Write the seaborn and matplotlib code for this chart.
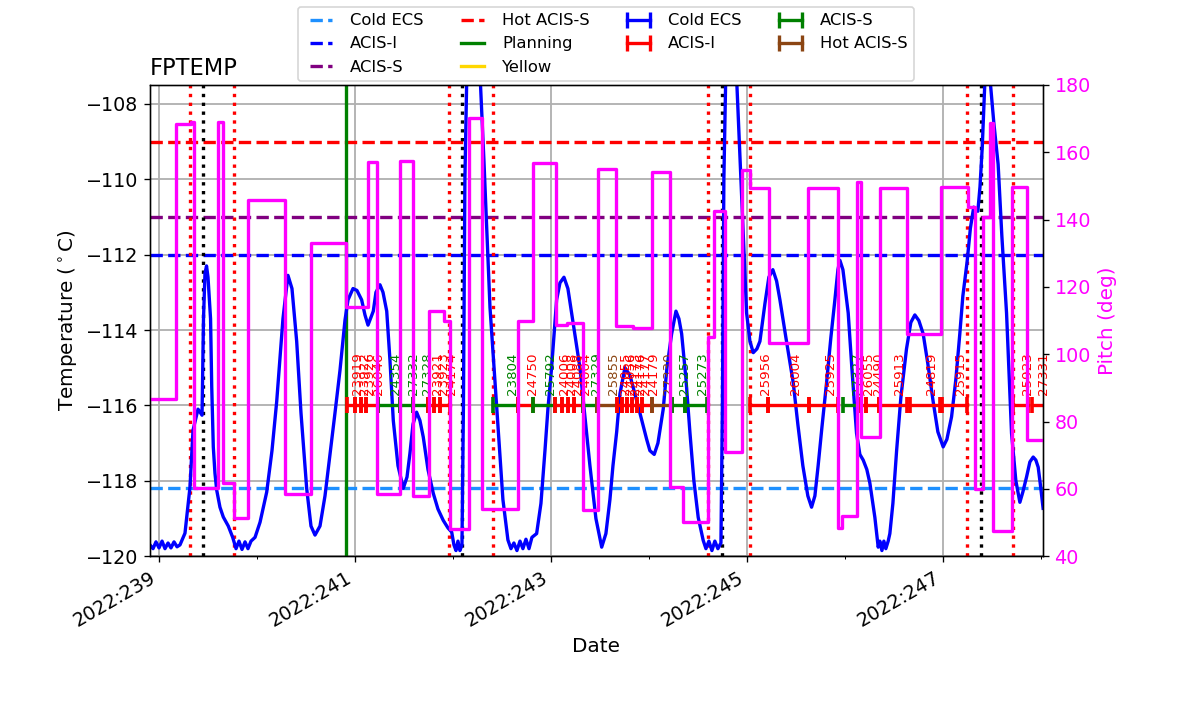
import numpy as np
import seaborn as sns
import matplotlib.pyplot as plt
from matplotlib.lines import Line2D

# FPTEMP model, x in day-of-year 2022
temp_time = [238.908, 238.939, 238.969, 239.000, 239.031, 239.061, 239.092, 239.122, 239.153, 239.184,
             239.214, 239.265, 239.316, 239.347, 239.398, 239.439, 239.454, 239.469, 239.485, 239.500,
             239.526, 239.538, 239.554, 239.571, 239.589, 239.622, 239.656, 239.707, 239.752, 239.786,
             239.816, 239.847, 239.878, 239.908, 239.939, 239.980, 240.031, 240.099, 240.153, 240.201,
             240.265, 240.316, 240.357, 240.405, 240.449, 240.507, 240.551, 240.592, 240.643, 240.694,
             240.745, 240.796, 240.847, 240.898, 240.929, 240.980, 241.020, 241.068, 241.102, 241.133,
             241.187, 241.214, 241.255, 241.286, 241.324, 241.357, 241.391, 241.439, 241.493, 241.531,
             241.561, 241.592, 241.629, 241.663, 241.697, 241.745, 241.799, 241.847, 241.901, 241.949,
             241.987, 242.010, 242.031, 242.051, 242.071, 242.092, 242.107, 242.122, 242.143, 242.184,
             242.235, 242.276, 242.316, 242.378, 242.446, 242.510, 242.561, 242.592, 242.622, 242.653,
             242.684, 242.714, 242.745, 242.776, 242.806, 242.854, 242.898, 242.939, 242.969, 243.007,
             243.058, 243.092, 243.133, 243.173, 243.214, 243.255, 243.296, 243.347, 243.398, 243.459,
             243.518, 243.561, 243.602, 243.633, 243.671, 243.704, 243.755, 243.806, 243.837, 243.908,
             243.977, 244.010, 244.054, 244.092, 244.146, 244.184, 244.232, 244.276, 244.306, 244.334,
             244.378, 244.418, 244.459, 244.503, 244.554, 244.582, 244.612, 244.643, 244.673, 244.704,
             244.735, 244.750, 244.765, 244.786, 244.827, 244.867, 244.898, 244.949, 244.997, 245.031,
             245.065, 245.102, 245.133, 245.184, 245.224, 245.265, 245.303, 245.337, 245.398, 245.473,
             245.520, 245.571, 245.622, 245.660, 245.694, 245.727, 245.765, 245.813, 245.857, 245.898,
             245.929, 245.949, 245.980, 246.034, 246.071, 246.119, 246.153, 246.187, 246.224, 246.255,
             246.306, 246.340, 246.357, 246.378, 246.398, 246.418, 246.442, 246.459, 246.490, 246.528,
             246.571, 246.629, 246.673, 246.714, 246.755, 246.799, 246.847, 246.901, 246.949, 247.003,
             247.041, 247.089, 247.133, 247.173, 247.204, 247.247, 247.281, 247.315, 247.357, 247.379,
             247.402, 247.429, 247.454, 247.480, 247.520, 247.564, 247.602, 247.650, 247.701, 247.745,
             247.786, 247.816, 247.854, 247.888, 247.922, 247.949, 247.973, 248.000, 248.023]
temp_vals = [-119.70, -119.80, -119.62, -119.78, -119.60, -119.80, -119.65, -119.78, -119.62, -119.75,
             -119.70, -119.39, -118.17, -116.66, -116.10, -116.26, -113.70, -112.50, -112.30, -112.60,
             -113.70, -115.50, -117.10, -117.80, -118.25, -118.70, -118.96, -119.20, -119.50, -119.80,
             -119.60, -119.82, -119.62, -119.80, -119.60, -119.50, -119.10, -118.30, -117.20, -115.90,
             -113.70, -112.55, -112.90, -114.30, -116.20, -118.20, -119.20, -119.44, -119.20, -118.40,
             -117.30, -116.20, -115.07, -113.74, -113.20, -112.90, -112.95, -113.20, -113.60, -113.87,
             -113.50, -113.00, -112.80, -113.00, -113.50, -114.80, -116.40, -117.60, -118.20, -117.90,
             -117.27, -116.50, -116.18, -116.40, -116.84, -117.70, -118.33, -118.75, -119.05, -119.25,
             -119.36, -119.70, -119.85, -119.60, -119.85, -119.70, -116.00, -110.00, -107.00, -105.80,
             -106.00, -107.20, -109.50, -113.40, -116.04, -118.50, -119.57, -119.80, -119.65, -119.85,
             -119.60, -119.80, -119.55, -119.80, -119.50, -119.40, -118.60, -117.20, -116.10, -114.99,
             -113.20, -112.75, -112.60, -112.90, -113.60, -114.30, -115.00, -116.30, -117.60, -119.00,
             -119.76, -119.40, -118.50, -117.60, -116.70, -115.70, -115.00, -115.20, -115.50, -116.20,
             -116.90, -117.20, -117.30, -117.00, -116.10, -115.00, -114.10, -113.50, -113.70, -114.10,
             -115.30, -116.70, -118.00, -118.97, -119.58, -119.80, -119.60, -119.85, -119.60, -119.80,
             -119.65, -116.00, -110.00, -107.00, -106.00, -106.40, -107.50, -110.60, -113.55, -114.30,
             -114.60, -114.50, -114.30, -113.30, -112.60, -112.40, -112.70, -113.20, -114.20, -115.40,
             -116.50, -117.60, -118.40, -118.70, -118.40, -117.60, -116.60, -115.40, -114.20, -113.20,
             -112.40, -112.15, -112.40, -113.55, -115.00, -116.74, -117.30, -117.45, -117.70, -118.06,
             -118.97, -119.76, -119.60, -119.85, -119.60, -119.80, -119.60, -119.40, -118.60, -117.20,
             -115.80, -114.50, -113.80, -113.60, -113.75, -114.10, -114.90, -115.90, -116.70, -117.10,
             -116.90, -116.30, -115.30, -114.10, -113.10, -112.20, -111.30, -110.74, -110.85, -110.20,
             -109.15, -107.40, -107.00, -107.30, -108.50, -109.60, -111.50, -113.55, -116.74, -118.00,
             -118.57, -118.30, -117.90, -117.50, -117.37, -117.45, -117.64, -118.20, -118.73]

# pitch (step, held until next time)
pitch_time = [238.908, 239.173, 239.327, 239.357, 239.602, 239.653, 239.765, 239.908, 240.286, 240.551,
              240.908, 241.133, 241.224, 241.459, 241.592, 241.755, 241.908, 241.969, 242.163, 242.301,
              242.668, 242.816, 243.051, 243.163, 243.327, 243.480, 243.663, 243.837, 244.031, 244.214,
              244.347, 244.602, 244.663, 244.775, 244.949, 245.031, 245.224, 245.622, 245.929, 245.969,
              246.122, 246.163, 246.357, 246.633, 246.980, 247.255, 247.327, 247.408, 247.480, 247.510,
              247.704, 247.857, 248.025]
pitch_vals = [86.7, 168.4, 169.0, 60.2, 169.0, 61.7, 51.3, 145.8, 58.4, 133.1,
              113.9, 157.0, 58.4, 157.5, 57.8, 112.8, 109.8, 48.2, 170.1, 54.0,
              109.8, 156.7, 108.7, 109.2, 53.7, 154.9, 108.4, 107.8, 154.2, 60.6,
              50.2, 105.0, 142.5, 71.0, 154.7, 149.3, 103.2, 149.3, 48.5, 52.0,
              151.3, 75.4, 149.5, 105.9, 149.8, 143.8, 60.1, 140.9, 168.6, 47.5,
              149.8, 74.5, 74.5]

# limits
limit_names = ['Cold ECS', 'ACIS-I', 'ACIS-S', 'Hot ACIS-S', 'Planning', 'Yellow']
limit_vals = [-118.2, -112.0, -111.0, -109.0, -84.0, -79.0]
limit_colors = ['dodgerblue', 'blue', 'purple', 'red', 'green', 'gold']
limit_styles = ['--', '--', '--', '--', '-', '-']

# vertical markers
radzone_times = [239.316, 239.765, 241.959, 242.408, 244.602, 245.031, 247.245, 247.714]
perigee_times = [239.449, 242.092, 244.745, 247.388]
load_start = 240.908

# observations
obs_start = [240.915, 241.000, 241.058, 241.112, 241.238, 241.459, 241.595, 241.748, 241.806, 241.867,
             242.411, 242.666, 242.816, 243.041, 243.112, 243.173, 243.235, 243.330, 243.466, 243.670,
             243.721, 243.772, 243.823, 243.874, 243.926, 244.034, 244.232, 244.367, 245.031, 245.217,
             245.636, 245.983, 246.133, 246.214, 246.347, 246.663, 246.987, 247.717, 247.905]
obs_stop = [241.000, 241.058, 241.112, 241.238, 241.459, 241.595, 241.748, 241.806, 241.867, 241.969,
            242.666, 242.816, 243.041, 243.112, 243.173, 243.235, 243.330, 243.466, 243.670, 243.721,
            243.772, 243.823, 243.874, 243.926, 244.034, 244.232, 244.367, 244.595, 245.217, 245.636,
            245.932, 246.133, 246.214, 246.347, 246.630, 246.969, 247.242, 247.870, 248.200]
obs_id = ['23919', '23922', '23926', '26046', '24354', '27332', '27328', '23921', '23923', '24174',
          '23804', '24750', '25792', '24006', '24008', '24088', '24004', '27329', '25855', '24055',
          '24056', '24173', '24176', '24177', '24179', '27330', '25257', '25273', '25956', '26004',
          '25925', '27327', '26055', '24490', '25913', '24819', '25915', '25923', '27331']
obs_type = ['I', 'I', 'I', 'I', 'S', 'S', 'S', 'I', 'I', 'I',
            'S', 'I', 'S', 'I', 'I', 'I', 'I', 'S', 'H', 'I',
            'I', 'I', 'I', 'I', 'I', 'H', 'S', 'S', 'I', 'I',
            'I', 'S', 'I', 'I', 'I', 'I', 'I', 'I', 'I']

type_names = ['Cold ECS', 'ACIS-I', 'ACIS-S', 'Hot ACIS-S']
type_keys = ['C', 'I', 'S', 'H']
type_colors = ['blue', 'red', 'green', 'saddlebrown']
type_color = dict(zip(type_keys, type_colors))

xmin, xmax = 238.908, 248.020
obs_y = -116.0

fig, ax = plt.subplots(figsize=(10, 5.95), dpi=120)
fig.subplots_adjust(left=0.125, right=0.869, bottom=0.221, top=0.881)

ax.grid(True, color='#b0b0b0', lw=1.1)
ax.set_axisbelow(True)

handles = []
for name, val, c, ls in zip(limit_names, limit_vals, limit_colors, limit_styles):
    handles.append(ax.axhline(val, color=c, ls=ls, lw=2, label=name))

for t in radzone_times:
    ax.axvline(t, color='red', ls=':', lw=2)
for t in perigee_times:
    ax.axvline(t, color='black', ls=':', lw=2)
ax.axvline(load_start, color='green', lw=2)

sns.lineplot(x=temp_time, y=temp_vals, ax=ax, color='blue', lw=2)

for t0, t1, oid, ot in zip(obs_start, obs_stop, obs_id, obs_type):
    c = type_color[ot]
    ax.plot([t0, t1], [obs_y, obs_y], color=c, lw=2, marker='|', ms=10, mew=2.2)
    mid = 0.5 * (t0 + min(t1, xmax))
    ax.text(mid, obs_y + 0.27, oid, rotation=90, color=c, fontsize=8,
            ha='left', va='bottom')

for name, c in zip(type_names, type_colors):
    handles.append(Line2D([], [], color=c, lw=2, marker='|', ms=10, mew=2, label=name))

ax.set_xlim(xmin, xmax)
ax.set_ylim(-120, -107.5)
major_days = [239, 241, 243, 245, 247]
ax.set_xticks(major_days)
ax.set_xticklabels([f'2022:{d}' for d in major_days], rotation=30, ha='right')
ax.set_xticks([240, 242, 244, 246, 248], minor=True)
ax.tick_params(axis='both', labelsize=11.5)
ax.set_xlabel('Date', fontsize=12)
ax.set_ylabel(r'Temperature ($^\circ$C)', fontsize=12)
ax.set_title('FPTEMP', loc='left', fontsize=13.5)

ax2 = ax.twinx()
sns.lineplot(x=pitch_time, y=pitch_vals, ax=ax2, color='magenta', lw=2, drawstyle='steps-post')
ax2.set_ylim(40, 180)
ax2.set_yticks(np.arange(40, 181, 20))
ax2.tick_params(axis='y', labelcolor='magenta', labelsize=11.5)
ax2.set_ylabel('Pitch (deg)', color='magenta', fontsize=12)
ax2.set_xlim(xmin, xmax)

ax.legend(handles=handles, ncol=4, loc='upper center', bbox_to_anchor=(0.511, 1.166),
          borderaxespad=0, fontsize=9.8, numpoints=2)

fig.savefig('out.png', dpi=120)
